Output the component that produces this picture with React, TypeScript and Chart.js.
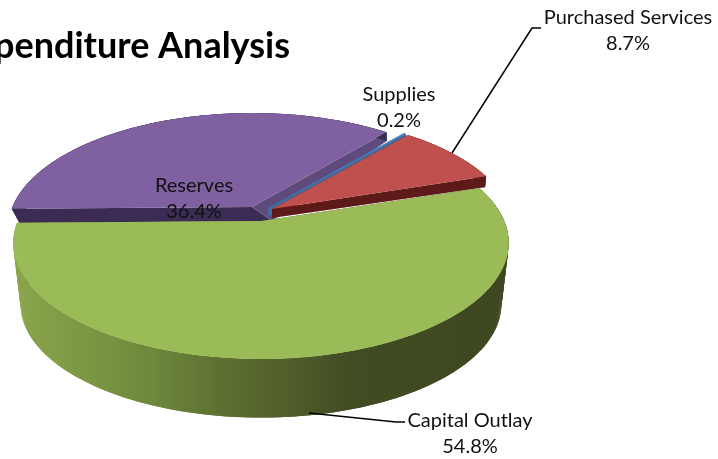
import React, { useEffect, useRef } from "react";
import { Chart, registerables } from "chart.js";

Chart.register(...registerables);

const categories = ["Capital Outlay", "Reserves", "Supplies", "Purchased Services"];
const shares = [54.8, 36.4, 0.2, 8.7];
const topColors = ["#9BBB59", "#7F60A0", "#4F81BD", "#C0504D"];
const startFaceColors = ["#4A5A28", "#3A2C52", "#3F6C9F", "#5E1A18"];
const endFaceColors = ["#4A5A28", "#5E4A7C", "#3F6C9F", "#5E1A18"];
const FONT = "Lato, 'Open Sans', sans-serif";

// Painting order runs from the back of the pie to the front.
const paintOrder = [1, 2, 3, 0];

// Exploded offset of each slice and the placement of its lower rim and lower apex.
const sliceGeometry = [
  { dx: 0, dy: 0, rx: 1.005, botDx: 0, botDy: 62, botRx: 0.97, botRy: 0.975, apexDx: 0, apexDy: 62 },
  { dx: -9, dy: -14, rx: 0.99, botDx: 3, botDy: 14, botRx: 0.98, botRy: 1.07, apexDx: 20, apexDy: 14 },
  { dx: 7, dy: -13, rx: 1, botDx: 0, botDy: 9, botRx: 0.99, botRy: 0.97, apexDx: 0, apexDy: 9 },
  { dx: 11, dy: -12, rx: 0.985, botDx: 0, botDy: 9, botRx: 0.995, botRy: 0.94, apexDx: 0, apexDy: 9 },
];

const DEPTH_RADIUS = 111.8;
const PERSPECTIVE = 0.19;

function project(angle: number, cx: number, cy: number, rx: number, ry: number) {
  const X = Math.cos(angle);
  const Y = Math.sin(angle);
  const w = 1 / (1 - PERSPECTIVE * Y);
  return { x: cx + rx * X * w, y: cy + ry * Y * w };
}

function sampleAngles(start: number, end: number) {
  const out: number[] = [];
  const steps = Math.max(2, Math.ceil((end - start) / (Math.PI / 240)));
  for (let i = 0; i <= steps; i++) out.push(start + ((end - start) * i) / steps);
  return out;
}

function fillPoly(ctx: CanvasRenderingContext2D, pts: { x: number; y: number }[], color: any) {
  ctx.beginPath();
  pts.forEach((p, i) => (i ? ctx.lineTo(p.x, p.y) : ctx.moveTo(p.x, p.y)));
  ctx.closePath();
  ctx.fillStyle = color;
  ctx.fill();
}

const tiltedPie = {
  id: "tiltedPie",
  beforeDatasetDraw(chart: any) {
    const ctx: CanvasRenderingContext2D = chart.ctx;
    const arcs = chart.getDatasetMeta(0).data;
    for (const i of paintOrder) {
      const arc = arcs[i];
      const g = sliceGeometry[i];
      const R = arc.outerRadius * g.rx;
      const top = { x: arc.x + g.dx, y: arc.y + g.dy };
      const low = { x: top.x + g.apexDx, y: top.y + g.apexDy };
      const bRx = R * g.botRx;
      const bRy = DEPTH_RADIUS * g.botRy;
      const angles = sampleAngles(arc.startAngle, arc.endAngle);
      const topRim = angles.map((a) => project(a, top.x, top.y, R, DEPTH_RADIUS));
      const botRim = angles.map((a) => project(a, top.x + g.botDx, top.y + g.botDy, bRx, bRy));
      const last = angles.length - 1;

      // Cut faces of the slice.
      fillPoly(ctx, [top, low, botRim[0], topRim[0]], startFaceColors[i]);
      fillPoly(ctx, [top, low, botRim[last], topRim[last]], endFaceColors[i]);

      // Outer wall, one overlapping strip per step so the silhouette stays convex;
      // the large front slice carries a left-to-right shade.
      let wall: any = startFaceColors[i];
      if (i === 0) {
        const grad = ctx.createLinearGradient(14, 0, 508, 0);
        grad.addColorStop(0, "#8AA54A");
        grad.addColorStop(0.12, "#7F9A44");
        grad.addColorStop(0.28, "#6E883C");
        grad.addColorStop(0.42, "#5D6F31");
        grad.addColorStop(0.56, "#4F5D2A");
        grad.addColorStop(0.68, "#414C23");
        grad.addColorStop(1, "#3D4820");
        wall = grad;
      }
      for (let k = 0; k < last; k++) {
        const n = Math.min(k + 2, last);
        fillPoly(ctx, [topRim[k], topRim[n], botRim[n], botRim[k]], wall);
      }

      // Top face.
      fillPoly(ctx, [top, ...topRim], topColors[i]);
    }
    return false;
  },
  afterDatasetsDraw(chart: any) {
    const ctx: CanvasRenderingContext2D = chart.ctx;
    ctx.save();

    // Leader lines.
    ctx.strokeStyle = "#000";
    ctx.lineWidth = 1.5;
    ctx.beginPath();
    ctx.moveTo(452, 153);
    ctx.lineTo(532, 28);
    ctx.lineTo(541, 28);
    ctx.moveTo(309, 413);
    ctx.lineTo(396, 422);
    ctx.lineTo(405, 422);
    ctx.stroke();

    // Title, running past the left edge of the canvas.
    ctx.fillStyle = "#000";
    ctx.textBaseline = "alphabetic";
    ctx.textAlign = "right";
    ctx.font = `bold 36px ${FONT}`;
    ctx.fillText("Expenditure Analysis", 290, 58);

    // Slice labels.
    const labelCentres = [
      { x: 470, y: 421 },
      { x: 194, y: 186 },
      { x: 399, y: 95 },
      { x: 628, y: 18 },
    ];
    ctx.textAlign = "center";
    ctx.textBaseline = "middle";
    ctx.font = `20px ${FONT}`;
    ctx.fillStyle = "#111";
    categories.forEach((name, i) => {
      const c = labelCentres[i];
      ctx.fillText(name, c.x, c.y);
      ctx.fillText(`${shares[i].toFixed(1)}%`, c.x, c.y + 26);
    });
    ctx.restore();
  },
};

export default function App() {
  const ref = useRef<HTMLCanvasElement>(null);
  useEffect(() => {
    document.body.style.margin = "0";
    const chart = new Chart(ref.current!, {
      type: "pie",
      data: {
        labels: categories,
        datasets: [{ data: shares, backgroundColor: topColors, borderWidth: 0 }],
      },
      options: {
        responsive: false,
        animation: false,
        rotation: 72,
        radius: 242,
        layout: { padding: { right: 196, bottom: 17 } },
        plugins: { legend: { display: false }, tooltip: { enabled: false } },
      },
      plugins: [tiltedPie],
    });
    return () => chart.destroy();
  }, []);
  return <canvas ref={ref} width={718} height={459} style={{ display: "block", background: "#fff" }} />;
}
